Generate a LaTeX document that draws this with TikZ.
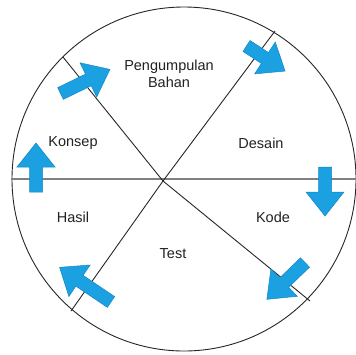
\documentclass[tikz,border=0pt]{standalone}
\usepackage{fontspec}
\setmainfont{Liberation Sans}
\definecolor{arrowfill}{HTML}{1BA1E2}
\definecolor{arrowedge}{HTML}{1487C2}
\definecolor{txt}{HTML}{222222}
\tikzset{
  lbl/.style={font=\fontsize{14.5}{17}\selectfont, text=txt, inner sep=0pt, align=center},
  blockarrow/.style={fill=arrowfill, draw=arrowedge, line width=0.5pt, line join=miter},
  divider/.style={draw=black!85, line width=0.9pt},
  axis/.style={draw=black!50, line width=2pt},
}
% #1,#2 tail centre, #3 angle, #4 length
\newcommand\barrow[4]{%
  \path[blockarrow, shift={(#1,#2)}, rotate=#3]
    (0,-6.5) -- ({#4-24},-6.5) -- ({#4-24},-19) -- (#4,0) -- ({#4-24},19) -- ({#4-24},6.5) -- (0,6.5) -- cycle;}
\begin{document}
\begin{tikzpicture}[x=1pt,y=-1pt]
\useasboundingbox (0,0) rectangle (356,354);
\fill[white] (0,0) rectangle (356,354);
\begin{scope}
\clip (0,0) rectangle (356,354);
\node[circle, draw=black!85, line width=0.9pt, minimum size=344pt, inner sep=0pt] (wheel) at (184,179) {};
\coordinate (c) at (163,181);
\coordinate (hl) at (11,179);
\coordinate (hr) at (356,179);
\coordinate (d1a) at (63,57);
\coordinate (d1b) at (310,301);
\coordinate (d2a) at (275,31);
\coordinate (d2b) at (71,311);
\draw[axis] (hl) -- (hr);
\draw[divider] (d1a) -- (c) -- (d1b);
\draw[divider] (d2a) -- (c) -- (d2b);
\end{scope}
\barrow{60.5}{93.5}{26}{55}
\barrow{246.5}{46}{-33}{46}
\barrow{325}{167}{-90}{49}
\barrow{305}{262.5}{-136}{53}
\barrow{111}{302}{146}{62}
\barrow{36}{192}{90}{49}
\node[lbl] (peng) at (169,74) {Pengumpulan\\Bahan};
\node[lbl] (konsep) at (73,143) {Konsep};
\node[lbl] (desain) at (261,143) {Desain};
\node[lbl] (hasil) at (73,217) {Hasil};
\node[lbl] (kode) at (273,217) {Kode};
\node[lbl] (test) at (173,254) {Test};
\end{tikzpicture}
\end{document}
